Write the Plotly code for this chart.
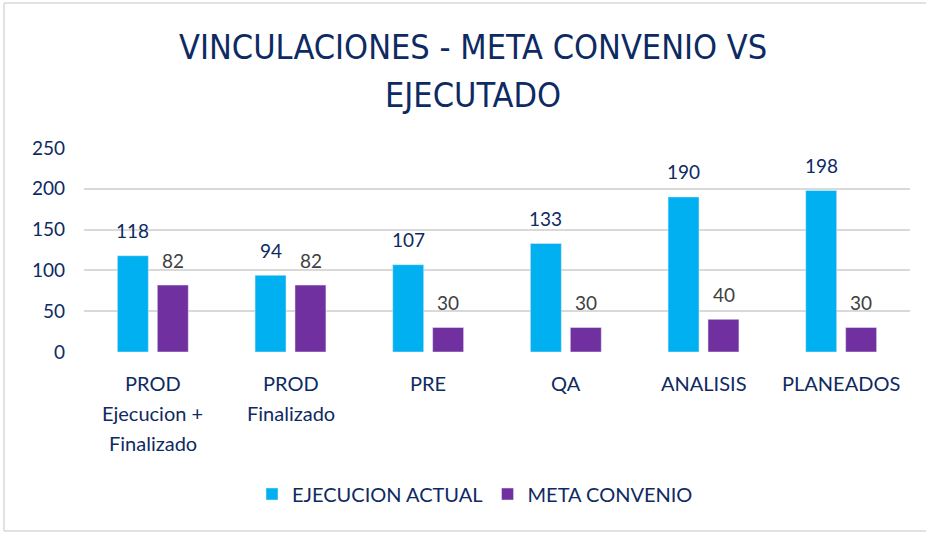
import plotly.graph_objects as go

categories = ["PROD<br>Ejecucion +<br>Finalizado", "PROD<br>Finalizado", "PRE", "QA", "ANALISIS", "PLANEADOS"]
ejecucion = [118, 94, 107, 133, 190, 198]
meta = [82, 82, 30, 30, 40, 30]
series_names = ["EJECUCION ACTUAL", "META CONVENIO"]
y_ticks = [0, 50, 100, 150, 200, 250]
title_lines = ["VINCULACIONES - META CONVENIO VS", "EJECUTADO"]

BLUE = "#00B0F0"
PURPLE = "#7030A0"
NAVY = "#0E2A62"
GRAY = "#404040"
GRID = "#D9D9D9"
FONT = "Lato, 'Open Sans', sans-serif"
TITLE_FONT = "'Liberation Sans Narrow', 'DejaVu Sans Condensed', sans-serif"

W, H = 926, 534
L, R, T, B = 84, 16, 148, 182
pw, ph = W - L - R, H - T - B


def px_to_paper_x(px):
    return (px - L) / pw


def px_to_paper_y(py):
    return (H - B - py) / ph


fig = go.Figure()
fig.add_trace(go.Bar(x=categories, y=ejecucion, name=series_names[0], marker_color=BLUE))
fig.add_trace(go.Bar(x=categories, y=meta, name=series_names[1], marker_color=PURPLE))

annotations = []
# data labels
for cat, v in zip(categories, ejecucion):
    annotations.append(dict(x=cat, y=v, text=str(v), showarrow=False, xshift=-20, yshift=25,
                            yanchor="middle", font=dict(family=FONT, size=19, color=NAVY)))
for cat, v in zip(categories, meta):
    annotations.append(dict(x=cat, y=v, text=str(v), showarrow=False, xshift=20, yshift=25,
                            yanchor="middle", font=dict(family=FONT, size=19, color=GRAY)))
# category labels (wider line spacing than native tick labels)
for cat in categories:
    for i, line in enumerate(cat.split("<br>")):
        annotations.append(dict(x=cat, y=0, text=line, showarrow=False, yanchor="middle",
                                yshift=-(31 + 30 * i),
                                font=dict(family=FONT, size=20, color=NAVY)))
# title
for line, py in zip(title_lines, [47, 95]):
    annotations.append(dict(xref="paper", yref="paper", x=px_to_paper_x(473), y=px_to_paper_y(py),
                            text=line, showarrow=False, xanchor="center", yanchor="middle",
                            font=dict(family=TITLE_FONT, size=34, color=NAVY)))

bx0, bx1 = px_to_paper_x(4), px_to_paper_x(926)
by0, by1 = px_to_paper_y(531), px_to_paper_y(3)
border = dict(color=GRID, width=1.5)
shapes = [
    dict(type="line", xref="paper", yref="paper", x0=bx0, x1=bx1, y0=by1, y1=by1, line=border, layer="below"),
    dict(type="line", xref="paper", yref="paper", x0=bx0, x1=bx1, y0=by0, y1=by0, line=border, layer="below"),
    dict(type="line", xref="paper", yref="paper", x0=bx0, x1=bx0, y0=by0, y1=by1, line=border, layer="below"),
]

fig.update_layout(
    width=W, height=H,
    margin=dict(l=L, r=R, t=T, b=B, autoexpand=False),
    paper_bgcolor="white", plot_bgcolor="white",
    barmode="group", bargap=0.42, bargroupgap=0.225,
    font=dict(family=FONT, size=19, color=NAVY),
    xaxis=dict(showgrid=False, showline=False, showticklabels=False, ticks=""),
    yaxis=dict(range=[0, 250], tickvals=y_ticks, showgrid=True, gridcolor=GRID, gridwidth=1.5,
               zeroline=False, showline=False, ticks="", ticklabelstandoff=18,
               tickfont=dict(family=FONT, size=19, color=NAVY)),
    legend=dict(orientation="h", x=px_to_paper_x(475), xanchor="center", y=px_to_paper_y(494),
                yanchor="middle", font=dict(family=FONT, size=20, color=NAVY),
                itemwidth=30, traceorder="normal"),
    annotations=annotations,
    shapes=shapes,
)

fig.write_html("out.html", config={"displayModeBar": False},
               post_script="document.body.style.margin='0';")
